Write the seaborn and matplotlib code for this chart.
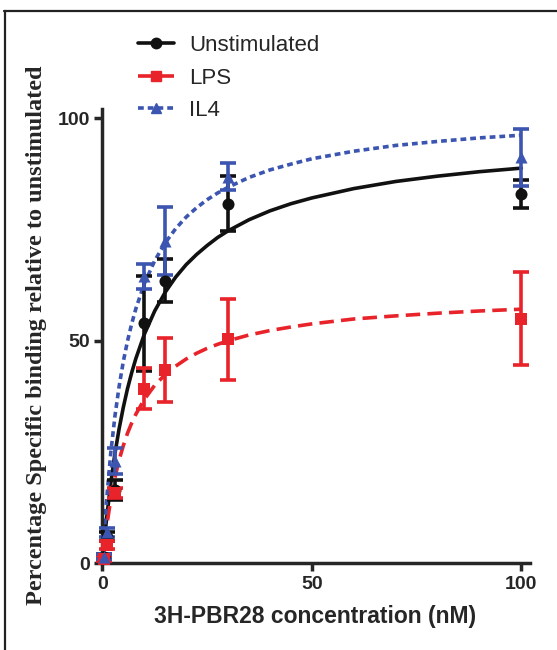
import matplotlib
matplotlib.use("Agg")
import matplotlib.pyplot as plt
from matplotlib.lines import Line2D
import seaborn as sns
import pandas as pd

conc = [0.3, 1, 3, 10, 15, 30, 100]
unstim_mean = [1.5, 6.0, 16.5, 53.9, 63.5, 80.8, 83.0]
unstim_sem = [0.5, 1.0, 2.3, 10.7, 4.8, 6.2, 3.1]
lps_mean = [1.0, 4.1, 15.8, 39.2, 43.4, 50.3, 55.0]
lps_sem = [0.5, 1.0, 1.2, 4.6, 7.2, 9.0, 10.5]
il4_mean = [1.5, 7.0, 23.0, 64.5, 72.4, 86.9, 91.2]
il4_sem = [0.5, 1.0, 3.0, 2.8, 7.6, 3.0, 6.4]

# fitted curves
curve_x = [0, 0.5, 1, 2, 3, 4, 5, 6, 7, 8, 10, 12.5, 15, 17.5, 20, 22.5, 25, 27.5, 30,
           35, 40, 45, 50, 60, 70, 80, 90, 100]
unstim_curve = [0, 5.2, 9.9, 17.9, 24.6, 30.2, 35.0, 39.2, 42.8, 46.0, 51.4, 56.7, 60.9,
                64.3, 67.1, 69.4, 71.4, 73.2, 74.7, 77.2, 79.2, 80.8, 82.1, 84.2, 85.8,
                87.0, 88.0, 88.8]
lps_curve = [0, 4.3, 8.1, 14.3, 19.2, 23.2, 26.4, 29.2, 31.5, 33.5, 36.8, 40.0, 42.4,
             44.3, 45.9, 47.2, 48.3, 49.2, 50.0, 51.3, 52.3, 53.1, 53.8, 54.9, 55.6,
             56.2, 56.7, 57.1]
il4_curve = [0, 7.5, 14.0, 24.7, 33.0, 39.7, 45.3, 49.9, 53.8, 57.2, 62.8, 68.0, 72.0,
             75.2, 77.8, 79.9, 81.7, 83.2, 84.5, 86.7, 88.4, 89.7, 90.9, 92.6, 93.9,
             94.8, 95.6, 96.2]

names = ["Unstimulated", "LPS", "IL4"]
colors = ["#111111", "#e8232a", "#3b55b0"]
markers = ["o", "s", "^"]
styles = ["-", (0, (4, 2)), (0, (1.6, 1.1))]

sns.set_style("ticks")
plt.rcParams["font.family"] = ["Liberation Sans", "DejaVu Sans"]

fig = plt.figure(figsize=(5.57, 6.5), dpi=100)
ax = fig.add_axes([0.1837, 0.1334, 0.7673, 0.6983])

series = [
    (unstim_mean, unstim_sem, unstim_curve),
    (lps_mean, lps_sem, lps_curve),
    (il4_mean, il4_sem, il4_curve),
]

for (mean, sem, curve), name, col, mk, ls in zip(series, names, colors, markers, styles):
    sns.lineplot(x=curve_x, y=curve, color=col, linestyle=ls, linewidth=2.6, ax=ax,
                 estimator=None, sort=False)
    ax.errorbar(conc, mean, yerr=sem, fmt="none", ecolor=col, elinewidth=2.6,
                capsize=6, capthick=2.6, clip_on=False, zorder=3)
    sns.scatterplot(x=conc, y=mean, color=col, marker=mk, s=75, edgecolor=col,
                    linewidth=0, ax=ax, zorder=4, clip_on=False)

ax.set_xlim(0, 102)
ax.set_ylim(0, 102)
ax.set_xticks([0, 50, 100])
ax.set_yticks([0, 50, 100])
ax.set_xlabel("")
ax.set_ylabel("")
sns.despine(ax=ax)
for sp in ["left", "bottom"]:
    ax.spines[sp].set_linewidth(2.5)
ax.tick_params(direction="out", length=6, width=2.5, labelsize=14, pad=3)
for lab in ax.get_xticklabels() + ax.get_yticklabels():
    lab.set_fontweight("bold")

fig.text(315 / 557, 1 - 617 / 650, "3H-PBR28 concentration (nM)", ha="center", va="center",
         fontsize=16.5, fontweight="bold")
fig.text(37 / 557, 1 - 335 / 650, "Percentage Specific binding relative to unstimulated",
         rotation=90, ha="center", va="center", fontsize=17.5, fontweight="bold",
         family=["Liberation Serif", "DejaVu Serif"])

handles = [Line2D([0], [0], color=c, marker=m, linestyle=s, linewidth=2.6, markersize=7.5)
           for c, m, s in zip(colors, markers, styles)]
fig.legend(handles, names, loc="upper left", bbox_to_anchor=(138 / 557, 1 - 35 / 650),
           frameon=False, fontsize=16, handlelength=1.6, handletextpad=0.7,
           labelspacing=0.52, borderaxespad=0, borderpad=0)

# frame lines along the top and left of the figure
fig.add_artist(Line2D([4 / 557, 1], [1 - 11 / 650, 1 - 11 / 650], color="#222222",
                      linewidth=1.6, transform=fig.transFigure))
fig.add_artist(Line2D([4.5 / 557, 4.5 / 557], [0, 1 - 11 / 650], color="#222222",
                      linewidth=1.6, transform=fig.transFigure))

fig.savefig("out.png", dpi=100)
